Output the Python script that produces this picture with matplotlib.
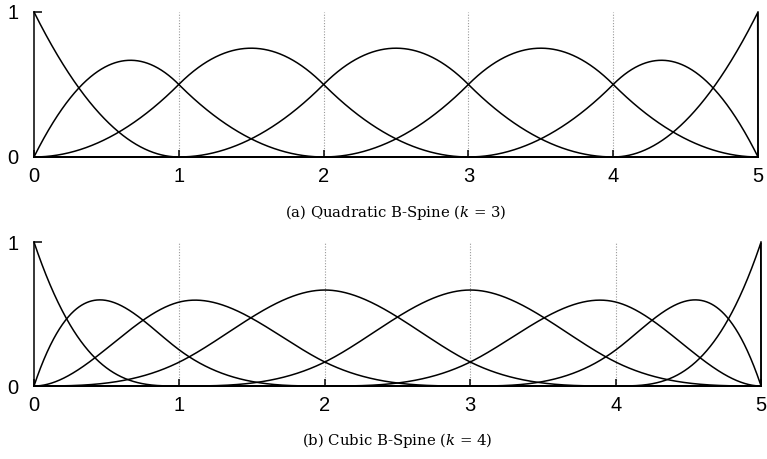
import numpy as np
import matplotlib
matplotlib.use('Agg')
from matplotlib import pyplot as plt

# knot vectors and orders of the two spline bases
knots_a = [0, 0, 0, 1, 2, 3, 4, 5, 5, 5]
order_a = 3
knots_b = [0, 0, 0, 0, 1, 2, 3, 4, 5, 5, 5, 5]
order_b = 4
xticks = [0, 1, 2, 3, 4, 5]
inner = [1, 2, 3, 4]
captions = [r'(a) Quadratic B-Spine ($k$ = 3)', r'(b) Cubic B-Spine ($k$ = 4)']


def basis(t, k, x):
    # Cox-de Boor recursion, half-open intervals
    t = np.asarray(t, float)
    n = len(t) - 1
    B = [((x >= t[i]) & (x < t[i + 1])).astype(float) for i in range(n)]
    for d in range(1, k):
        nb = []
        for i in range(n - d):
            a = np.zeros_like(x)
            if t[i + d] > t[i]:
                a = (x - t[i]) / (t[i + d] - t[i]) * B[i]
            b = np.zeros_like(x)
            if t[i + d + 1] > t[i + 1]:
                b = (t[i + d + 1] - x) / (t[i + d + 1] - t[i + 1]) * B[i + 1]
            nb.append(a + b)
        B = nb
    return B


plt.rcParams['mathtext.fontset'] = 'dejavuserif'
fig = plt.figure(figsize=(7.67, 4.59), dpi=100)
ax1 = fig.add_axes([0.0443, 0.658, 0.944, 0.316])
ax2 = fig.add_axes([0.0443, 0.159, 0.948, 0.3137])

x = np.linspace(0, 5, 2001)
for ax, t, k, cap in [(ax1, knots_a, order_a, captions[0]), (ax2, knots_b, order_b, captions[1])]:
    for v in inner:
        ax.axvline(v, color='#999999', lw=0.8, ls=(0, (1, 1.5)), zorder=0)
    for b in basis(t, k, x):
        ax.plot(x, b, color='black', lw=1.1, clip_on=False)
    # the last basis function drops back to zero at the end knot
    ax.plot([5, 5], [0, 1], color='black', lw=1.1, clip_on=False)
    ax.set_xlim(0, 5)
    ax.set_ylim(0, 1)
    for s in ['top', 'right']:
        ax.spines[s].set_visible(False)
    ax.spines['left'].set_linewidth(1.1)
    ax.spines['bottom'].set_linewidth(1.1)
    ax.set_xticks(xticks)
    ax.set_yticks([0, 1])
    ax.set_xticklabels([str(v) for v in xticks], family='Liberation Sans', fontsize=14.5)
    ax.set_yticklabels(['0', '1'], family='Liberation Sans', fontsize=14.5)
    ax.tick_params(axis='x', direction='in', length=5, width=1.1, pad=7)
    ax.tick_params(axis='y', direction='in', length=6, width=1.1, pad=11)
    ax.text(0.5, -0.38, cap, transform=ax.transAxes, ha='center', va='center',
            family='DejaVu Serif', fontsize=10.7)

fig.savefig('out.png', dpi=100)
